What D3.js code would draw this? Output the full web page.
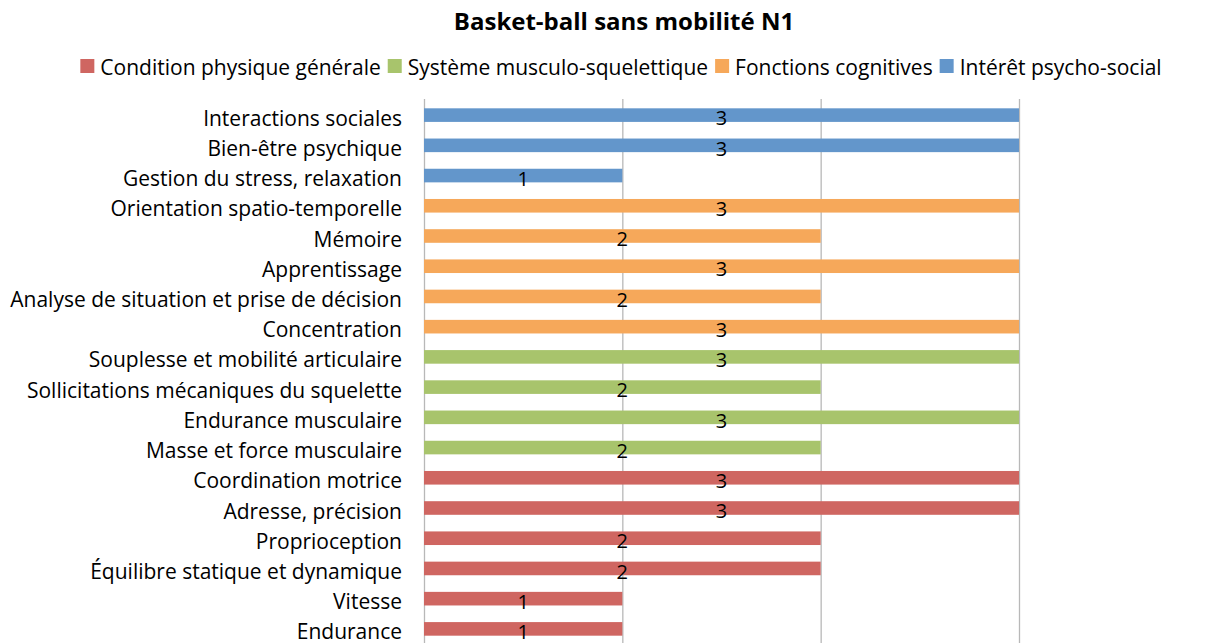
<!DOCTYPE html>
<html>
<meta charset="utf-8">
<head>
<script src="https://cdnjs.cloudflare.com/ajax/libs/d3/7.8.5/d3.min.js"></script>
<style>
  body { margin: 0; background: #fff; }
  text { font-family: "Open Sans", sans-serif; }
</style>
</head>
<body>
<script>
// data, top row first
const categories = [
  "Interactions sociales", "Bien-être psychique", "Gestion du stress, relaxation",
  "Orientation spatio-temporelle", "Mémoire", "Apprentissage",
  "Analyse de situation et prise de décision", "Concentration",
  "Souplesse et mobilité articulaire", "Sollicitations mécaniques du squelette",
  "Endurance musculaire", "Masse et force musculaire",
  "Coordination motrice", "Adresse, précision", "Proprioception",
  "Équilibre statique et dynamique", "Vitesse", "Endurance"
];
const values = [3, 3, 1, 3, 2, 3, 2, 3, 3, 2, 3, 2, 3, 3, 2, 2, 1, 1];
const groups = [3, 3, 3, 2, 2, 2, 2, 2, 1, 1, 1, 1, 0, 0, 0, 0, 0, 0];
const seriesNames = ["Condition physique générale", "Système musculo-squelettique", "Fonctions cognitives", "Intérêt psycho-social"];
const seriesColors = ["#cf6661", "#a8c46c", "#f6a85a", "#6396cb"];
const xTicks = [0, 1, 2, 3];

const W = 1211, H = 643;
const svg = d3.select("body").append("svg").attr("width", W).attr("height", H);

const x = d3.scaleLinear().domain([0, 3]).range([424, 1019]);
const y = d3.scaleBand().domain(categories).range([100, 644]).paddingInner(0.55).paddingOuter(0.275);

// grid lines
svg.append("g")
  .attr("transform", "translate(0,99)")
  .call(d3.axisBottom(x).tickValues(xTicks).tickSize(545).tickFormat(""))
  .call(g => g.select(".domain").remove())
  .call(g => g.selectAll("line").attr("stroke", "#b8b8b8").attr("stroke-width", 1.3));

// bars
svg.append("g").selectAll("rect")
  .data(categories)
  .enter().append("rect")
  .attr("x", x(0))
  .attr("y", d => y(d))
  .attr("width", (d, i) => x(values[i]) - x(0))
  .attr("height", y.bandwidth())
  .attr("fill", (d, i) => seriesColors[groups[i]]);

// value labels
svg.append("g").selectAll("text")
  .data(categories)
  .enter().append("text")
  .attr("x", (d, i) => (x(0) + x(values[i])) / 2)
  .attr("y", d => y(d) + y.bandwidth() / 2 + 3)
  .attr("text-anchor", "middle")
  .attr("dy", "0.36em")
  .attr("font-size", "20px")
  .attr("fill", "#000")
  .text((d, i) => values[i]);

// category axis
svg.append("g")
  .attr("transform", `translate(${x(0)},0)`)
  .call(d3.axisLeft(y).tickSize(0).tickPadding(22))
  .call(g => g.select(".domain").remove())
  .call(g => g.selectAll("text")
    .attr("font-size", "21px")
    .attr("font-family", "'Open Sans', sans-serif")
    .attr("fill", "#000")
    .attr("dy", "0.5em"));

// title
svg.append("text")
  .attr("x", 624).attr("y", 30)
  .attr("text-anchor", "middle")
  .attr("font-size", "24px").attr("font-weight", "bold")
  .text("Basket-ball sans mobilité N1");

// legend
const legend = svg.append("g");
const items = legend.selectAll("g").data(seriesNames).enter().append("g");
items.append("rect").attr("width", 14).attr("height", 14).attr("y", -9)
  .attr("fill", (d, i) => seriesColors[i]);
items.append("text").attr("x", 20).attr("dy", "0.34em")
  .attr("font-size", "21px").text(d => d);
let cx = 0;
items.each(function () {
  d3.select(this).attr("transform", `translate(${cx},68)`);
  cx += this.getBBox().width + 7;
});
legend.attr("transform", `translate(${621 - (cx - 7) / 2},0)`);
</script>
</body>
</html>
